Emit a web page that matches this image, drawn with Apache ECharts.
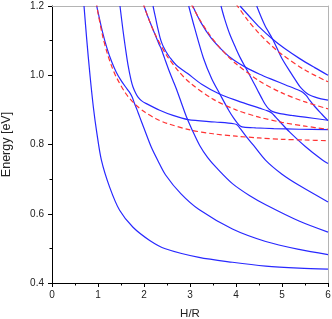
<!DOCTYPE html>
<html><head><meta charset="utf-8">
<script src="https://cdn.jsdelivr.net/npm/echarts@6/dist/echarts.min.js"></script>
<style>html,body{margin:0;padding:0;background:#fff}#c{width:332px;height:319px}</style>
</head><body><div id="c"></div>
<script>
// x = H/R, y = Energy [eV]
const blueS1 = [[0.696,1.2],[0.754,1.105],[0.826,1.0],[0.9,0.907],[0.972,0.836],[1.074,0.755],[1.253,0.677],[1.47,0.61],[1.761,0.561],[2.124,0.523],[2.465,0.499],[3.196,0.474],[3.922,0.46],[4.646,0.449],[5.37,0.443],[6.0,0.44]];
const blueR1S2 = [[0.972,1.2],[1.0,1.183],[1.1,1.124],[1.2,1.076],[1.3,1.038],[1.4,1.008],[1.5,0.985],[1.6,0.966],[1.68,0.952],[1.74,0.938],[1.79,0.92],[1.85,0.9],[1.9,0.882],[2.0,0.847],[2.16,0.792],[2.3,0.754],[2.47,0.712],[2.8,0.658],[3.196,0.612],[3.922,0.556],[4.646,0.52],[5.37,0.497],[6.0,0.482]];
const blueS2F1S4 = [[1.478,1.2],[1.543,1.13],[1.6,1.075],[1.652,1.03],[1.72,0.985],[1.761,0.966],[1.82,0.948],[1.87,0.937],[1.95,0.926],[2.052,0.918],[2.341,0.899],[2.63,0.884],[2.957,0.872],[3.543,0.865],[3.95,0.86],[4.02,0.857],[4.08,0.848],[4.211,0.825],[4.378,0.798],[4.646,0.754],[5.0,0.714],[5.37,0.682],[6.0,0.634]];
const blueR2S3 = [[2.0,1.2],[2.102,1.163],[2.211,1.127],[2.32,1.092],[2.37,1.078],[2.41,1.063],[2.45,1.048],[2.537,1.016],[2.63,0.985],[2.722,0.954],[2.813,0.92],[2.922,0.88],[3.037,0.845],[3.211,0.797],[3.385,0.762],[3.574,0.733],[3.922,0.687],[4.3,0.652],[4.646,0.626],[5.37,0.579],[6.0,0.547]];
const blueS3F2S5 = [[2.196,1.2],[2.254,1.164],[2.309,1.13],[2.35,1.108],[2.39,1.092],[2.43,1.08],[2.48,1.068],[2.559,1.052],[2.704,1.029],[2.95,1.005],[3.254,0.974],[3.652,0.945],[4.037,0.926],[4.509,0.905],[4.689,0.897],[4.776,0.891],[4.863,0.879],[5.015,0.857],[5.174,0.835],[5.5,0.795],[5.878,0.755],[6.0,0.745]];
const blueS4F1 = [[2.972,1.2],[3.102,1.136],[3.291,1.05],[3.472,0.99],[3.652,0.945],[3.841,0.899],[3.95,0.876],[4.03,0.862],[4.1,0.853],[4.168,0.85],[4.428,0.848],[4.82,0.846],[5.37,0.844],[6.0,0.843]];
const blueF3S6 = [[3.059,1.2],[3.239,1.152],[3.457,1.108],[3.748,1.066],[3.95,1.044],[4.222,1.022],[4.515,1.003],[4.82,0.986],[5.08,0.972],[5.341,0.958],[5.45,0.951],[5.53,0.941],[5.6,0.928],[5.717,0.909],[5.863,0.888],[6.0,0.869]];
const blueS5F2 = [[3.674,1.2],[3.754,1.162],[3.863,1.119],[3.993,1.079],[4.102,1.048],[4.222,1.019],[4.298,1.0],[4.378,0.98],[4.472,0.956],[4.559,0.934],[4.63,0.917],[4.711,0.903],[4.798,0.895],[4.957,0.889],[5.211,0.884],[5.5,0.879],[6.0,0.87]];
const blueS6F3 = [[4.45,1.2],[4.624,1.145],[4.798,1.104],[4.993,1.05],[5.196,1.006],[5.298,0.985],[5.385,0.968],[5.46,0.957],[5.53,0.949],[5.6,0.943],[5.72,0.937],[5.85,0.932],[6.0,0.928]];
const blueF4 = [[4.087,1.2],[4.298,1.169],[4.509,1.139],[4.798,1.104],[5.059,1.077],[5.385,1.048],[5.711,1.022],[6.0,1.0]];

const redR1 = [[0.96,1.212],[1.0,1.18],[1.1,1.114],[1.2,1.064],[1.3,1.025],[1.4,0.994],[1.6,0.948],[1.8,0.917],[2.0,0.895],[2.25,0.875],[2.5,0.861],[3.0,0.842],[3.5,0.831],[4.0,0.824],[4.5,0.819],[5.0,0.815],[5.5,0.813],[6.0,0.811]];
const redR2 = [[1.98,1.208],[2.1,1.163],[2.25,1.116],[2.5,1.056],[2.75,1.012],[3.0,0.978],[3.5,0.931],[4.0,0.9],[4.5,0.879],[5.0,0.864],[5.5,0.853],[6.0,0.844]];
const redR3 = [[3.03,1.205],[3.2,1.163],[3.4,1.122],[3.6,1.087],[3.8,1.058],[4.0,1.033],[4.5,0.984],[5.0,0.949],[5.5,0.923],[6.0,0.903]];
const redR4 = [[4.0,1.206],[4.25,1.16],[4.5,1.121],[4.75,1.088],[5.0,1.06],[5.5,1.015],[6.0,0.981]];

const xTickLabels = ['0','1','2','3','4','5','6'];
const yTickLabels = ['0.4','0.6','0.8','1.0','1.2'];

const blueCurves = [blueS1, blueR1S2, blueS2F1S4, blueR2S3, blueS3F2S5, blueS4F1, blueF3S6, blueS5F2, blueS6F3, blueF4];
const redCurves = [redR1, redR2, redR3, redR4];

const series = [];
blueCurves.forEach(function (d) {
  series.push({type:'line', data:d, showSymbol:false, smooth:0.3, clip:true, silent:true,
    lineStyle:{color:'#2828ff', width:1.2}});
});
redCurves.forEach(function (d) {
  series.push({type:'line', data:d, showSymbol:false, smooth:0.3, clip:true, silent:true,
    lineStyle:{color:'#ff3333', width:1.2, type:[5,3]}});
});

const font = 'Liberation Sans, Arial, sans-serif';
const chart = echarts.init(document.getElementById('c'), null, {renderer:'canvas'});
chart.setOption({
  animation:false,
  backgroundColor:'#ffffff',
  grid:{left:52, right:4, top:6, bottom:36, containLabel:false, outerBoundsMode:'none'},
  xAxis:[{
    type:'value', min:0, max:6, interval:1, position:'bottom',
    axisLine:{show:true, onZero:false, lineStyle:{color:'#000', width:1}},
    axisTick:{show:true, inside:false, length:4, lineStyle:{color:'#000'}},
    minorTick:{show:true, splitNumber:2, length:2.5, lineStyle:{color:'#000'}},
    splitLine:{show:false},
    axisLabel:{margin:7, color:'#222', fontSize:10, fontFamily:font,
      formatter:function(v){ return xTickLabels[Math.round(v)] || ''; }},
    name:'H/R', nameLocation:'middle', nameGap:25,
    nameTextStyle:{color:'#222', fontSize:11.5, fontFamily:font}
  },{
    type:'value', min:0, max:6, position:'top',
    axisLine:{show:true, onZero:false, lineStyle:{color:'#b4b4b4', width:1}},
    axisTick:{show:false}, axisLabel:{show:false}, splitLine:{show:false}
  }],
  yAxis:[{
    type:'value', min:0.4, max:1.2, interval:0.2, position:'left',
    axisLine:{show:true, onZero:false, lineStyle:{color:'#000', width:1}},
    axisTick:{show:true, inside:false, length:4, lineStyle:{color:'#000'}},
    minorTick:{show:true, splitNumber:2, length:2.5, lineStyle:{color:'#000'}},
    splitLine:{show:false},
    axisLabel:{margin:8, color:'#222', fontSize:10, fontFamily:font,
      formatter:function(v){ return yTickLabels[Math.round((v-0.4)/0.2)] || ''; }},
    name:'Energy [eV]', nameLocation:'middle', nameGap:39, nameRotate:90,
    nameTextStyle:{color:'#222', fontSize:12.5, fontFamily:font}
  },{
    type:'value', min:0.4, max:1.2, position:'right',
    axisLine:{show:true, onZero:false, lineStyle:{color:'#b4b4b4', width:1}},
    axisTick:{show:false}, axisLabel:{show:false}, splitLine:{show:false}
  }],
  series: series
});
</script>
</body></html>
